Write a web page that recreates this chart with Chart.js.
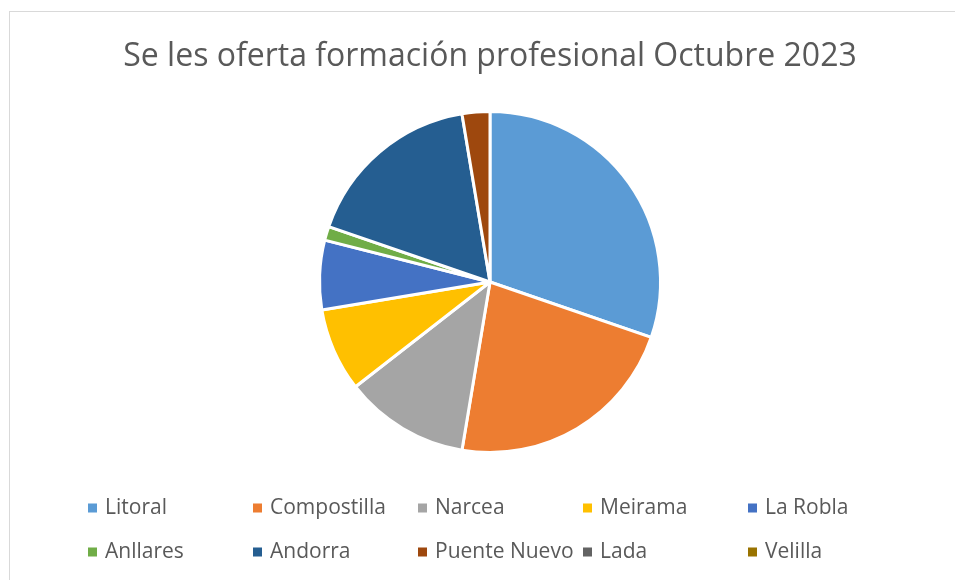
<!DOCTYPE html>
<html>
<head>
<meta charset="utf-8">
<script src="https://cdn.jsdelivr.net/npm/chart.js@4.4.1/dist/chart.umd.min.js"></script>
<style>
html,body{margin:0;padding:0;background:#fff;}
#wrap{width:955px;height:580px;position:relative;}
</style>
</head>
<body>
<div id="wrap"><canvas id="c" width="955" height="580"></canvas></div>
<script>
const titleText = "Se les oferta formación profesional Octubre 2023";
const categories = ["Litoral", "Compostilla", "Narcea", "Meirama", "La Robla", "Anllares", "Andorra", "Puente Nuevo", "Lada", "Velilla"];
const values = [23, 17, 9, 6, 5, 1, 13, 2, 0, 0];
const colors = ["#5B9BD5", "#ED7D31", "#A5A5A5", "#FFC000", "#4472C4", "#70AD47", "#255E91", "#9E480E", "#636363", "#997300"];

const textColor = "#595959";
const fontFamily = "'Open Sans', 'DejaVu Sans', sans-serif";

const framePlugin = {
  id: 'frame',
  beforeDraw(chart) {
    const ctx = chart.ctx;
    ctx.save();
    ctx.fillStyle = '#ffffff';
    ctx.fillRect(0, 0, chart.width, chart.height);
    ctx.strokeStyle = '#D9D9D9';
    ctx.lineWidth = 1;
    ctx.strokeRect(9.5, 11.5, chart.width + 20, chart.height + 20);
    ctx.restore();
  }
};

const gridLegend = {
  id: 'gridLegend',
  afterDraw(chart) {
    const ctx = chart.ctx;
    const labels = chart.data.labels;
    const bg = chart.data.datasets[0].backgroundColor;
    ctx.save();
    ctx.font = "21px " + fontFamily;
    ctx.textBaseline = 'middle';
    ctx.textAlign = 'left';
    labels.forEach((lab, i) => {
      const col = i % 5, row = Math.floor(i / 5);
      const x = 88 + col * 165;
      const y = 508 + row * 44;
      ctx.fillStyle = bg[i];
      ctx.fillRect(x, y - 4.5, 9, 9);
      ctx.fillStyle = textColor;
      ctx.fillText(lab, x + 17, y);
    });
    ctx.restore();
  }
};

new Chart(document.getElementById('c'), {
  type: 'pie',
  data: {
    labels: categories,
    datasets: [{
      data: values,
      backgroundColor: colors,
      borderColor: '#ffffff',
      borderWidth: 3
    }]
  },
  options: {
    responsive: false,
    animation: false,
    layout: { padding: { top: 10, left: 25, right: 0, bottom: 126 } },
    plugins: {
      legend: { display: false },
      tooltip: { enabled: false },
      title: {
        display: true,
        text: titleText,
        color: textColor,
        font: { family: fontFamily, size: 32, weight: 'normal', lineHeight: 1.2 },
        padding: { top: 27.8, bottom: 33.8 }
      }
    }
  },
  plugins: [framePlugin, gridLegend]
});
</script>
</body>
</html>
